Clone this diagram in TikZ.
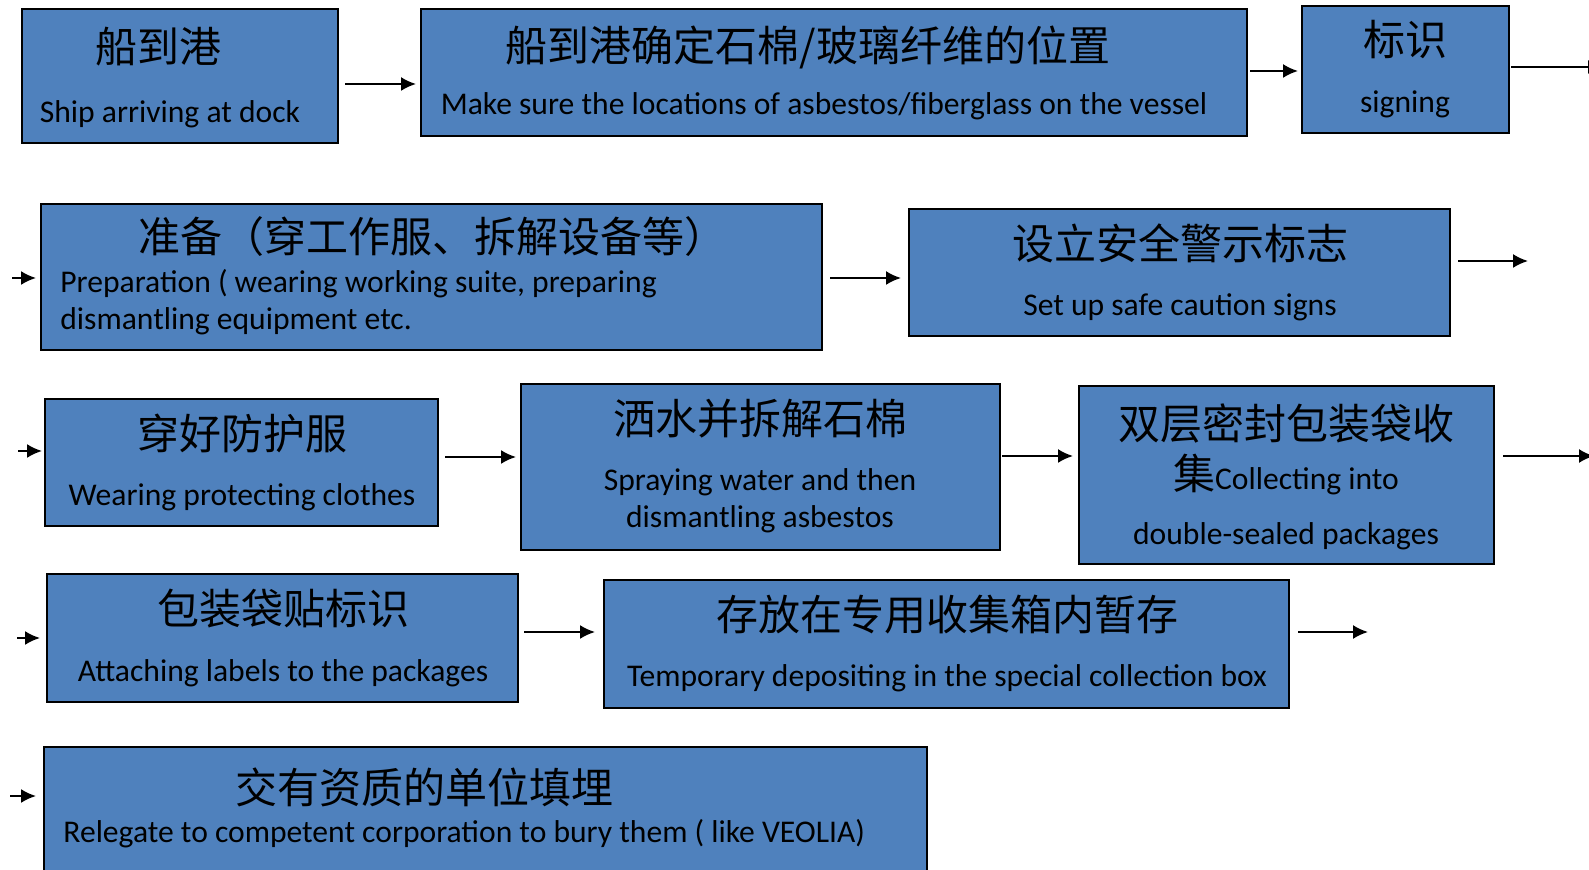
\documentclass[tikz,border=0pt]{standalone}
\usepackage{fontspec}
\setmainfont{Carlito}
\newfontfamily\cjk{Noto Sans CJK SC}
\usetikzlibrary{arrows.meta,fit}
\definecolor{boxblue}{HTML}{4F81BD}

\begin{document}
\begin{tikzpicture}[x=0.5pt,y=-0.5pt]
\tikzstyle{every node}=[inner sep=0pt]
\tikzstyle{box}=[draw=black, line width=1pt, fill=boxblue, rectangle]
\tikzstyle{zh}=[font=\cjk\fontsize{21}{25}\selectfont]
\tikzstyle{en}=[font=\fontsize{15.8}{18.5}\selectfont]
\tikzstyle{link}=[overlay, line width=1pt, -{Latex[length=7.5pt,width=7pt]}]
\useasboundingbox (0,0) rectangle (1589,870);
% row 1
\node[box, fit={(22,9) (338,143)}] (b1) {};
\node[zh] (z1) at (158,47) {船到港};
\node[en] (t1) at (170,114) {Ship arriving at dock};
\node[box, fit={(421,9) (1247,136)}] (b2) {};
\node[zh] (z2) at (808,47) {船到港确定石棉/玻璃纤维的位置};
\node[en] (t2) at (824,106) {Make sure the locations of asbestos/fiberglass on the vessel};
\node[box, fit={(1302,6) (1509,133)}] (b3) {};
\node[zh] (z3) at (1405,40) {标识};
\node[en] (t3) at (1405,104) {signing};
% row 2
\node[box, fit={(41,204) (822,350)}] (b4) {};
\node[zh] (z4) at (432,237) {准备（穿工作服、拆解设备等）};
\node[en, anchor=west, align=left] (t4) at (60,302) {Preparation ( wearing working suite, preparing\\dismantling equipment etc.};
\node[box, fit={(909,209) (1450,336)}] (b5) {};
\node[zh] (z5) at (1180,243) {设立安全警示标志};
\node[en] (t5) at (1180,307) {Set up safe caution signs};
% row 3
\node[box, fit={(45,399) (438,526)}] (b6) {};
\node[zh] (z6) at (242,433) {穿好防护服};
\node[en] (t6) at (242,497) {Wearing protecting clothes};
\node[box, fit={(521,384) (1000,550)}] (b7) {};
\node[zh] (z7) at (760,419) {洒水并拆解石棉};
\node[en, align=center] (t7) at (760,501) {Spraying water and then\\dismantling asbestos};
\node[box, fit={(1079,386) (1494,564)}] (b8) {};
\node[zh] (z8) at (1286,424) {双层密封包装袋收};
\node[en] (t8) at (1286,475) {{\cjk\fontsize{21}{25}\selectfont 集}Collecting into};
\node[en] (u8) at (1286,536) {double-sealed packages};
% row 4
\node[box, fit={(47,574) (518,702)}] (b9) {};
\node[zh] (z9) at (283,609) {包装袋贴标识};
\node[en] (t9) at (283,673) {Attaching labels to the packages};
\node[box, fit={(604,580) (1289,708)}] (b10) {};
\node[zh] (z10) at (947,615) {存放在专用收集箱内暂存};
\node[en] (t10) at (947,678) {Temporary depositing in the special collection box};
% row 5
\node[box, fit={(44,747) (927,885)}] (b11) {};
\node[zh] (z11) at (424,787) {交有资质的单位填埋};
\node[en, anchor=west] (t11) at (63,834) {Relegate to competent corporation to bury them ( like VEOLIA)};
% arrows
\foreach \n/\xa/\xb/\yy in {1/345/416/84, 2/1250/1298/71, 3/1511/1603/67,
  4/12/36/278, 5/830/901/278, 6/1458/1528/261,
  7/18/42/451, 8/445/516/457, 9/1002/1073/456, 10/1503/1594/456,
  11/17/40/638, 12/524/595/632, 13/1298/1368/632, 14/10/36/796}
{
  \coordinate (s\n) at (\xa,\yy);
  \coordinate (e\n) at (\xb,\yy);
  \draw[link] (s\n) -- (e\n);
}
\end{tikzpicture}
\end{document}
